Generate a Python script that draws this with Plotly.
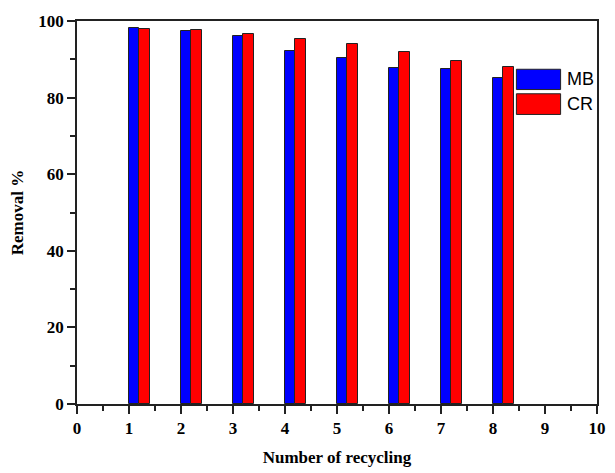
import plotly.graph_objects as go

cycles = [1, 2, 3, 4, 5, 6, 7, 8]
mb_removal = [98.2, 97.3, 96.2, 92.2, 90.3, 87.7, 87.4, 85.0]
cr_removal = [97.9, 97.6, 96.5, 95.4, 93.9, 92.0, 89.5, 88.0]
series_names = ["MB", "CR"]
series_colors = ["#0000FF", "#FF0000"]
x_ticks = list(range(0, 11))
y_ticks = [0, 20, 40, 60, 80, 100]

fig = go.Figure()
for i, (name, vals, col) in enumerate(zip(series_names, [mb_removal, cr_removal], series_colors)):
    fig.add_trace(go.Bar(
        x=cycles, y=vals, name=name, width=0.2, offset=0.2 * i,
        marker=dict(color=col, line=dict(color="#222222", width=1)),
        showlegend=False,
    ))

tickfont = dict(family="Liberation Serif", size=17, color="black", weight="bold")
titlefont = dict(family="Liberation Serif", size=17, color="black", weight="bold")
axis_common = dict(
    showline=True, linecolor="#222222", linewidth=1.5, mirror=True,
    ticks="outside", ticklen=8, tickwidth=1.5, tickcolor="#222222",
    showgrid=False, zeroline=False, tickfont=tickfont,
)

fig.update_xaxes(
    range=[0, 10], tickvals=x_ticks,
    title=dict(text="Number of recycling", font=titlefont, standoff=14),
    minor=dict(dtick=0.5, ticks="outside", ticklen=5, tickwidth=1.5, tickcolor="#222222", showgrid=False),
    **axis_common,
)
fig.update_yaxes(
    range=[0, 100], tickvals=y_ticks,
    title=dict(text="Removal %", font=titlefont, standoff=10),
    minor=dict(dtick=10, ticks="outside", ticklen=5, tickwidth=1.5, tickcolor="#222222", showgrid=False),
    **axis_common,
)

# Legend drawn with shapes + text (large patches like the original)
legend_rows = [(0.874, 0.821), (0.810, 0.756)]
for (y1, y0), name, col in zip(legend_rows, series_names, series_colors):
    fig.add_shape(type="rect", xref="paper", yref="paper", x0=0.845, x1=0.930, y0=y0, y1=y1,
                  fillcolor=col, line=dict(color="#222222", width=1))
    fig.add_annotation(xref="paper", yref="paper", x=0.938, y=(y0 + y1) / 2, text=name,
                       showarrow=False, xanchor="left", yanchor="middle",
                       font=dict(family="Liberation Sans", size=18, color="black"))

fig.update_layout(
    width=615, height=473,
    margin=dict(l=77, r=9, t=21, b=62),
    paper_bgcolor="white", plot_bgcolor="white",
    barmode="overlay", bargap=0,
)

fig.write_html("out.html")
